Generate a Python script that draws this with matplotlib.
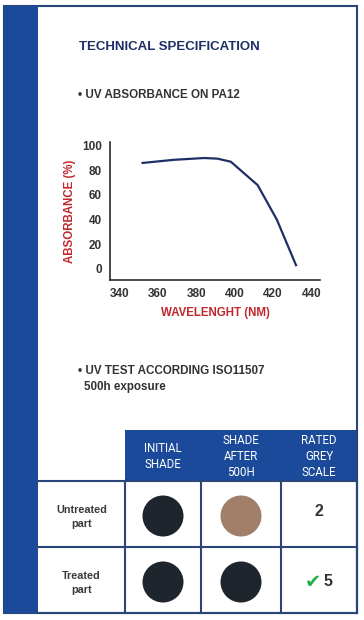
import matplotlib
matplotlib.use("Agg")
import matplotlib.pyplot as plt
from matplotlib.patches import Rectangle, Circle

# ---- data ----
wavelength = [352, 368, 384, 391, 398, 412, 422, 432]
absorbance = [86, 88.5, 90, 89.5, 87, 68, 40, 3]
x_ticks = [340, 360, 380, 400, 420, 440]
y_ticks = [0, 20, 40, 60, 80, 100]
col_headers = ["INITIAL\nSHADE", "SHADE\nAFTER\n500H", "RATED\nGREY\nSCALE"]
row_labels = ["Untreated\npart", "Treated\npart"]
initial_shade = ["#1f252d", "#1f252d"]
after_shade = ["#a08068", "#1f252d"]
grey_scale = ["2", "5"]

W, H = 364, 620
BAND = "#1b4a9b"
NAVY = "#1e2f66"
LINE = "#2a4577"
RED = "#c0272d"
GREY = "#333333"
FONT = "Liberation Sans"

fig = plt.figure(figsize=(W / 100, H / 100), dpi=100)
bg = fig.add_axes([0, 0, 1, 1])
bg.set_xlim(0, W)
bg.set_ylim(H, 0)
bg.axis("off")

# outer frame and left band
bg.add_patch(Rectangle((4, 6), 353, 607, facecolor="white", edgecolor=LINE, lw=1.5, zorder=1))
bg.add_patch(Rectangle((4, 6), 34, 607, facecolor=BAND, edgecolor="none", zorder=2))

bg.text(79, 47, "TECHNICAL SPECIFICATION", fontsize=9.5, fontweight="bold", color=NAVY,
        family=FONT, va="center", ha="left")
bg.text(78, 95, "• UV ABSORBANCE ON PA12", fontsize=8.4, fontweight="bold", color=GREY,
        family=FONT, va="center", ha="left")
bg.text(78, 371, "• UV TEST ACCORDING ISO11507", fontsize=8.4, fontweight="bold", color=GREY,
        family=FONT, va="center", ha="left")
bg.text(84, 387, "500h exposure", fontsize=8.4, fontweight="bold", color=GREY,
        family=FONT, va="center", ha="left")

# ---- table ----
col_x = [38, 125, 201, 281, 357]
row_y = [430, 481, 547, 613]
bg.add_patch(Rectangle((col_x[1], row_y[0]), col_x[4] - col_x[1], row_y[1] - row_y[0],
                       facecolor=BAND, edgecolor="none", zorder=3))
for i, h in enumerate(col_headers):
    cx = (col_x[i + 1] + col_x[i + 2]) / 2
    bg.text(cx, (row_y[0] + row_y[1]) / 2 + 1, h, fontsize=8.3, color="white", family="Roboto",
            ha="center", va="center", linespacing=1.25, zorder=4)
# grid lines
for y in row_y[1:]:
    bg.plot([col_x[0], col_x[4]], [y, y], color=LINE, lw=1.5, zorder=5)
for x in col_x[1:]:
    bg.plot([x, x], [row_y[1], row_y[3]], color=LINE, lw=1.5, zorder=5)
bg.plot([col_x[4], col_x[4]], [row_y[0], row_y[3]], color=LINE, lw=1.5, zorder=5)

for r in range(2):
    cy = (row_y[r + 1] + row_y[r + 2]) / 2
    bg.text((col_x[0] + col_x[1]) / 2, cy + 3, row_labels[r], fontsize=7.8, fontweight="bold",
            color="#3a3a3a", family=FONT, ha="center", va="center", linespacing=1.45, zorder=4)
    bg.add_patch(Circle(((col_x[1] + col_x[2]) / 2, cy + 2), 20.5, facecolor=initial_shade[r],
                        edgecolor="none", zorder=4))
    bg.add_patch(Circle(((col_x[2] + col_x[3]) / 2, cy + 2), 20.5, facecolor=after_shade[r],
                        edgecolor="none", zorder=4))
    gx = (col_x[3] + col_x[4]) / 2
    if r == 0:
        bg.text(gx, cy - 3, grey_scale[r], fontsize=11.5, fontweight="bold", color=GREY,
                family=FONT, ha="center", va="center", zorder=4)
    else:
        bg.text(gx + 9, cy + 2, grey_scale[r], fontsize=11.5, fontweight="bold", color=GREY,
                family=FONT, ha="center", va="center", zorder=4)
        bg.text(gx - 6, cy + 2, "✔", fontsize=14, color="#22b04a", family="DejaVu Sans",
                ha="center", va="center", zorder=4)

# ---- chart ----
ax = fig.add_axes([110 / W, 1 - 280 / H, 210 / W, 138 / H])
ax.plot(wavelength, absorbance, color=NAVY, lw=1.6)
ax.set_xlim(335, 444.5)
ax.set_ylim(-9, 103)
ax.set_xticks(x_ticks)
ax.set_yticks(y_ticks)
ax.tick_params(length=0, labelsize=8.5, colors=GREY, pad=6)
for lab in ax.get_xticklabels() + ax.get_yticklabels():
    lab.set_fontweight("bold")
    lab.set_family(FONT)
for s in ["top", "right"]:
    ax.spines[s].set_visible(False)
for s in ["left", "bottom"]:
    ax.spines[s].set_color("#2b2b2b")
    ax.spines[s].set_linewidth(1.2)
ax.set_xlabel("WAVELENGHT (NM)", fontsize=8.3, fontweight="bold", color=RED, family=FONT, labelpad=5)
ax.set_ylabel("ABSORBANCE (%)", fontsize=8.3, fontweight="bold", color=RED, family=FONT, labelpad=4)
ax.patch.set_alpha(0)

fig.savefig("out.png", dpi=100)
